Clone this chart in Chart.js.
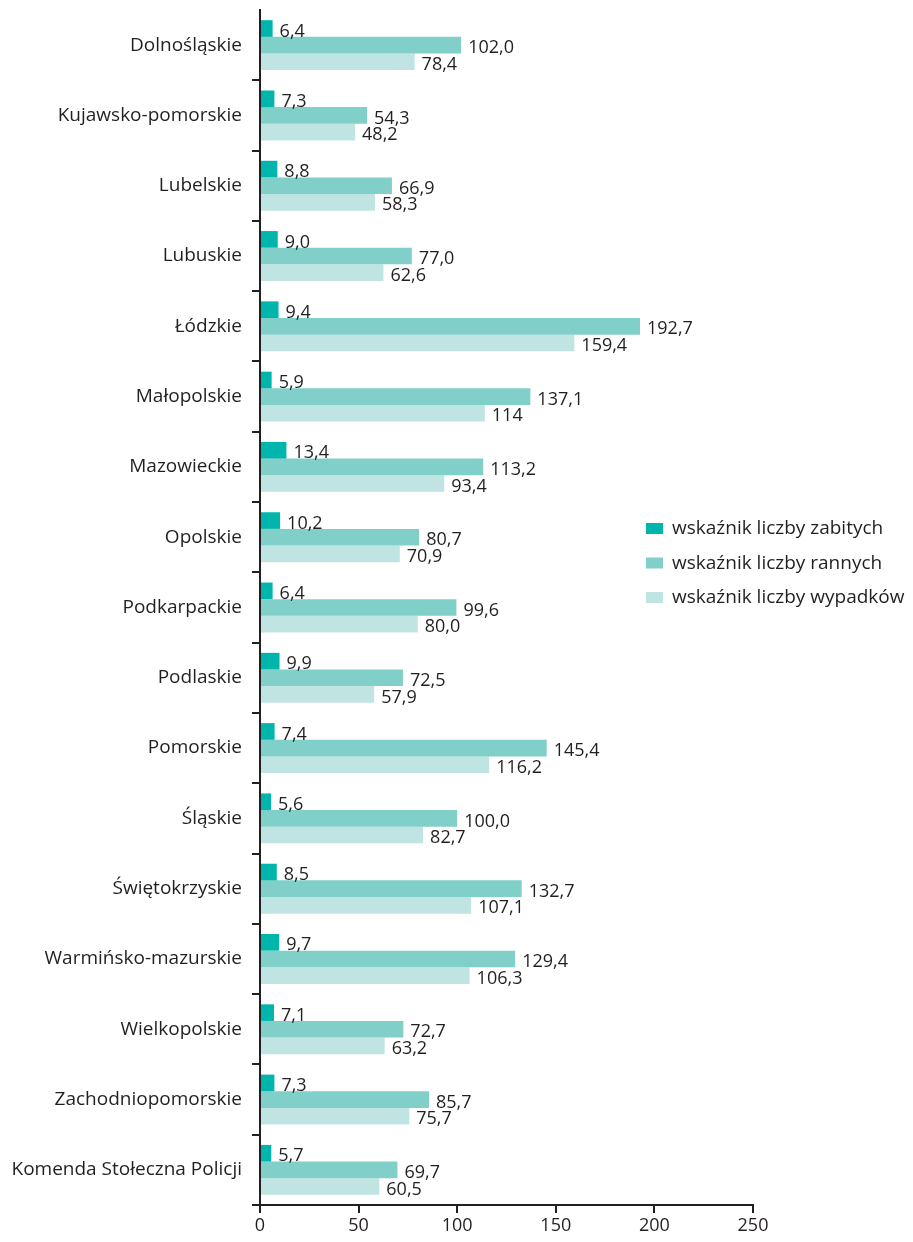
<!DOCTYPE html>
<html>
<head>
<meta charset="utf-8">
<script src="https://cdn.jsdelivr.net/npm/chart.js@4"></script>
<style>
  html, body { margin: 0; padding: 0; background: #fff; }
  #wrap { width: 913px; height: 1242px; position: relative; }
</style>
</head>
<body>
<div id="wrap"><canvas id="chart"></canvas></div>
<script>
// Województwa (top to bottom)
var regions = ['Dolnośląskie','Kujawsko-pomorskie','Lubelskie','Lubuskie','Łódzkie','Małopolskie',
    'Mazowieckie','Opolskie','Podkarpackie','Podlaskie','Pomorskie','Śląskie','Świętokrzyskie',
    'Warmińsko-mazurskie','Wielkopolskie','Zachodniopomorskie','Komenda Stołeczna Policji'];
var zabitych = [6.4, 7.3, 8.8, 9.0, 9.4, 5.9, 13.4, 10.2, 6.4, 9.9, 7.4, 5.6, 8.5, 9.7, 7.1, 7.3, 5.7];
var rannych = [102.0, 54.3, 66.9, 77.0, 192.7, 137.1, 113.2, 80.7, 99.6, 72.5, 145.4, 100.0, 132.7, 129.4, 72.7, 85.7, 69.7];
var wypadkow = [78.4, 48.2, 58.3, 62.6, 159.4, 114, 93.4, 70.9, 80.0, 57.9, 116.2, 82.7, 107.1, 106.3, 63.2, 75.7, 60.5];
var seriesNames = ['wskaźnik liczby zabitych', 'wskaźnik liczby rannych', 'wskaźnik liczby wypadków'];
var seriesColors = ['#00b5ab', '#80cfc9', '#c0e4e1'];
var xTicks = [0, 50, 100, 150, 200, 250];
// one label printed without decimals in the original
var labelOverrides = { '2-5': '114' };

var FONT = '"Open Sans", "DejaVu Sans", sans-serif';
var INK = '#231f20';

function fmt(v){ return v.toFixed(1).replace('.', ','); }

var valueLabels = {
    id: 'valueLabels',
    afterDatasetsDraw: function(chart){
        var ctx = chart.ctx;
        ctx.save();
        ctx.font = '18px ' + FONT;
        ctx.fillStyle = INK;
        ctx.textAlign = 'left';
        ctx.textBaseline = 'middle';
        chart.data.datasets.forEach(function(ds, di){
            chart.getDatasetMeta(di).data.forEach(function(bar, i){
                var txt = labelOverrides[di + '-' + i] || fmt(ds.data[i]);
                ctx.fillText(txt, bar.x + 7, bar.y + 3);
            });
        });
        ctx.restore();
    }
};

// legend sits inside the plot, right of the bars
var sideLegend = {
    id: 'sideLegend',
    afterDraw: function(chart){
        var ctx = chart.ctx;
        var x = chart.chartArea.left + 386;
        var y = 528;
        ctx.save();
        ctx.font = '19px ' + FONT;
        ctx.textBaseline = 'middle';
        ctx.textAlign = 'left';
        chart.data.datasets.forEach(function(ds, i){
            ctx.fillStyle = ds.backgroundColor;
            ctx.fillRect(x, y + i * 34.5 - 5, 17, 11);
            ctx.fillStyle = INK;
            ctx.fillText(ds.label, x + 26, y + i * 34.5 + 1);
        });
        ctx.restore();
    }
};

new Chart(document.getElementById('chart'), {
    type: 'bar',
    data: {
        labels: regions,
        datasets: [
            { label: seriesNames[0], data: zabitych, backgroundColor: seriesColors[0] },
            { label: seriesNames[1], data: rannych, backgroundColor: seriesColors[1] },
            { label: seriesNames[2], data: wypadkow, backgroundColor: seriesColors[2] }
        ]
    },
    options: {
        indexAxis: 'y',
        responsive: true,
        maintainAspectRatio: false,
        animation: false,
        devicePixelRatio: 1,
        layout: { padding: { top: 10, right: 160, left: 0, bottom: 0 } },
        datasets: { bar: { categoryPercentage: 0.71, barPercentage: 1.0 } },
        plugins: { legend: { display: false }, tooltip: { enabled: false } },
        scales: {
            x: {
                min: 0, max: 250,
                afterBuildTicks: function(s){ s.ticks = xTicks.map(function(v){ return { value: v }; }); },
                afterFit: function(s){ s.height = 37; s.paddingLeft = 0; s.paddingRight = 0; },
                border: { display: true, color: INK, width: 2 },
                grid: { drawOnChartArea: false, drawTicks: true, tickLength: 8, color: INK, lineWidth: 2 },
                ticks: { color: INK, font: { family: FONT, size: 18 }, padding: 2, maxRotation: 0 }
            },
            y: {
                afterFit: function(s){ s.width = 260; s.paddingTop = 0; s.paddingBottom = 0; },
                border: { display: true, color: INK, width: 2 },
                grid: {
                    drawOnChartArea: false, drawTicks: true, tickLength: 8, lineWidth: 2,
                    color: function(c){ return c.index === 0 ? 'rgba(0,0,0,0)' : INK; }
                },
                ticks: { color: INK, font: { family: FONT, size: 19 }, padding: 10, autoSkip: false }
            }
        }
    },
    plugins: [valueLabels, sideLegend]
});
</script>
</body>
</html>
